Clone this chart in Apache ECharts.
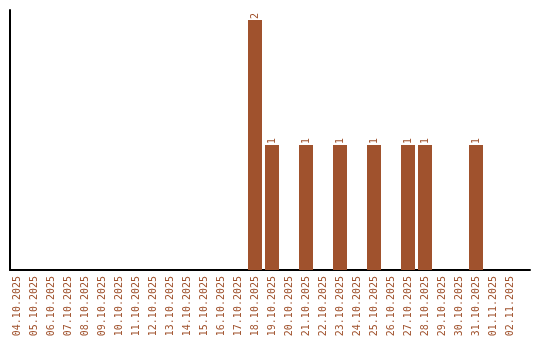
<!DOCTYPE html>
<html><head><meta charset="utf-8">
<script src="https://cdn.jsdelivr.net/npm/echarts@6/dist/echarts.min.js"></script>
<style>html,body{margin:0;padding:0;background:#fff}#c{width:540px;height:340px}</style>
</head><body><div id="c"></div>
<script>
const categories = ["04.10.2025","05.10.2025","06.10.2025","07.10.2025","08.10.2025","09.10.2025","10.10.2025","11.10.2025","12.10.2025","13.10.2025","14.10.2025","15.10.2025","16.10.2025","17.10.2025","18.10.2025","19.10.2025","20.10.2025","21.10.2025","22.10.2025","23.10.2025","24.10.2025","25.10.2025","26.10.2025","27.10.2025","28.10.2025","29.10.2025","30.10.2025","31.10.2025","01.11.2025","02.11.2025"];
const counts = [0,0,0,0,0,0,0,0,0,0,0,0,0,0,2,1,0,1,0,1,0,1,0,1,1,0,0,1,0,0];
const yMax = 2.08;

const color = '#a0522d';
const font = 'DejaVu Sans Mono';
const chart = echarts.init(document.getElementById('c'), null, {renderer:'canvas'});
chart.setOption({
  animation:false,
  grid:[
    {left:10,right:10,top:10,bottom:70},
    {left:8.5,right:21.5,top:10,bottom:70}
  ],
  xAxis:[
    {gridIndex:0,type:'category',data:categories,axisLine:{show:true,lineStyle:{color:'#000',width:2}},axisTick:{show:false},axisLabel:{show:false},splitLine:{show:false}},
    {gridIndex:1,type:'category',data:categories,axisLine:{show:false},axisTick:{show:false},
     axisLabel:{show:true,rotate:90,margin:6,color:color,fontFamily:font,fontSize:10,interval:0},splitLine:{show:false}}
  ],
  yAxis:[
    {gridIndex:0,type:'value',min:0,max:yMax,axisLine:{show:true,lineStyle:{color:'#000',width:2}},axisTick:{show:false},axisLabel:{show:false},splitLine:{show:false}},
    {gridIndex:1,type:'value',min:0,max:yMax,axisLine:{show:false},axisTick:{show:false},axisLabel:{show:false},splitLine:{show:false}}
  ],
  series:[{
    type:'bar',xAxisIndex:1,yAxisIndex:1,data:counts,barWidth:14,
    itemStyle:{color:color},
    label:{show:true,position:'top',rotate:90,align:'left',verticalAlign:'middle',distance:1,
      color:color,fontFamily:font,fontSize:10,
      formatter:p=>p.value?String(p.value):''}
  }]
});
</script></body></html>
